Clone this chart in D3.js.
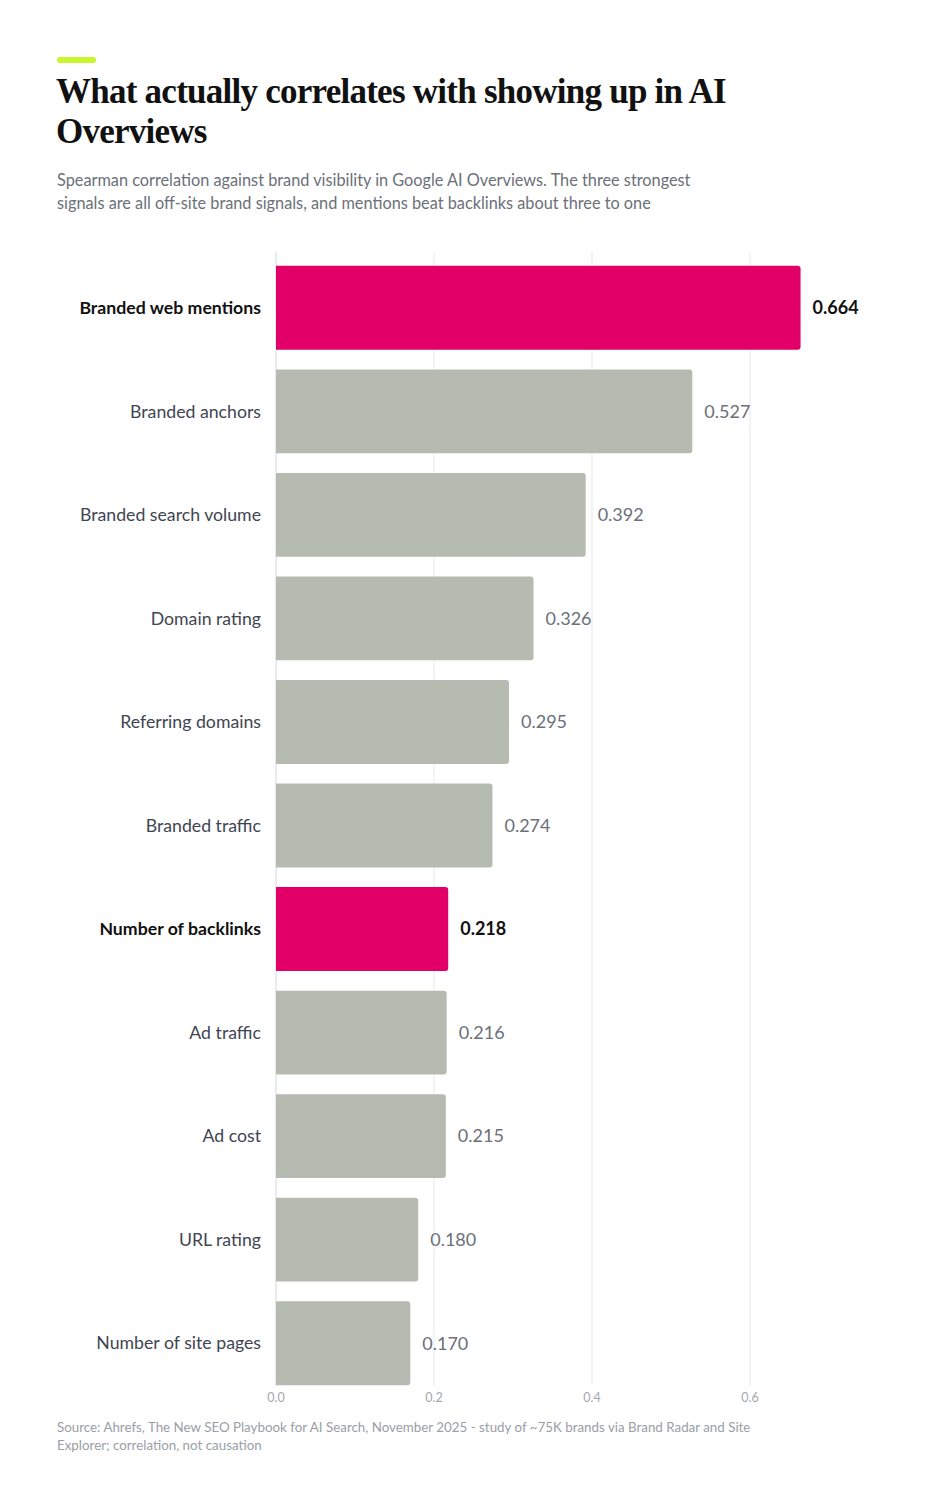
<!DOCTYPE html>
<html><head><meta charset="utf-8">
<script src="https://cdn.jsdelivr.net/npm/d3@7"></script>
<style>
body{margin:0;background:#fff;}
svg{display:block;}
</style></head>
<body>
<svg id="chart" width="941" height="1500"></svg>
<script>
const categories = ["Branded web mentions","Branded anchors","Branded search volume","Domain rating","Referring domains","Branded traffic","Number of backlinks","Ad traffic","Ad cost","URL rating","Number of site pages"];
const values = [0.664,0.527,0.392,0.326,0.295,0.274,0.218,0.216,0.215,0.180,0.170];
const highlighted = ["Branded web mentions","Number of backlinks"];
const xTicks = [0,0.2,0.4,0.6];
const titleLines = ["What actually correlates with showing up in AI","Overviews"];
const subtitleLines = ["Spearman correlation against brand visibility in Google AI Overviews. The three strongest","signals are all off-site brand signals, and mentions beat backlinks about three to one"];
const sourceLines = ["Source: Ahrefs, The New SEO Playbook for AI Search, November 2025 - study of ~75K brands via Brand Radar and Site","Explorer; correlation, not causation"];

const svg = d3.select("#chart");
const sans = "Lato, 'Noto Sans', sans-serif";

svg.append("rect").attr("x",57).attr("y",57).attr("width",39).attr("height",6).attr("rx",3).attr("fill","#c8f52c");

svg.append("g").selectAll("text").data(titleLines).join("text")
  .attr("x",56).attr("y",(d,i)=>103+i*40)
  .attr("font-family","'Liberation Serif','DejaVu Serif',serif").attr("font-weight",700)
  .attr("font-size",35).attr("letter-spacing",-0.75).attr("fill","#111").text(d=>d);

svg.append("g").selectAll("text").data(subtitleLines).join("text")
  .attr("x",57).attr("y",(d,i)=>186+i*23)
  .attr("font-family",sans).attr("font-size",16.3).attr("fill","#6b7079").text(d=>d);

const x = d3.scaleLinear().domain([0,1]).range([276,1066]);
const y = d3.scaleBand().domain(categories).range([256,1395]).paddingInner(0.19).paddingOuter(0.095);

// grid
svg.append("g").selectAll("line").data(xTicks.filter(t=>t>0)).join("line")
  .attr("x1",d=>x(d)).attr("x2",d=>x(d)).attr("y1",252).attr("y2",1386)
  .attr("stroke","#e8e9ec").attr("stroke-width",1);
svg.append("line").attr("x1",x(0)).attr("x2",x(0)).attr("y1",252).attr("y2",1386)
  .attr("stroke","#d4d6da").attr("stroke-width",1);

const r = 3;
function barPath(d,i){
  const x0 = x(0), x1 = x(values[i]), y0 = y(d), h = y.bandwidth();
  return `M${x0},${y0}H${x1-r}Q${x1},${y0} ${x1},${y0+r}V${y0+h-r}Q${x1},${y0+h} ${x1-r},${y0+h}H${x0}Z`;
}
svg.append("g").selectAll("path").data(categories).join("path")
  .attr("d",barPath)
  .attr("fill",d=>highlighted.includes(d)?"#e20068":"#b6bbb2");

// category labels
svg.append("g").selectAll("text").data(categories).join("text")
  .attr("x",261).attr("y",d=>y(d)+y.bandwidth()/2).attr("dy","0.35em")
  .attr("text-anchor","end").attr("font-family",sans).attr("font-size",17.7)
  .attr("font-weight",d=>highlighted.includes(d)?700:400)
  .attr("fill",d=>highlighted.includes(d)?"#111":"#3f4552").text(d=>d);

// value labels
svg.append("g").selectAll("text").data(categories).join("text")
  .attr("x",(d,i)=>x(values[i])+12).attr("y",d=>y(d)+y.bandwidth()/2).attr("dy","0.35em")
  .attr("font-family",sans).attr("font-size",18)
  .attr("font-weight",d=>highlighted.includes(d)?700:400)
  .attr("fill",d=>highlighted.includes(d)?"#111":"#6b7079").text((d,i)=>values[i].toFixed(3));

// axis ticks
svg.append("g").selectAll("text").data(xTicks).join("text")
  .attr("x",d=>x(d)).attr("y",1402).attr("text-anchor","middle")
  .attr("font-family",sans).attr("font-size",12.5).attr("fill","#a3a7ae").text(d=>d.toFixed(1));

svg.append("g").selectAll("text").data(sourceLines).join("text")
  .attr("x",57).attr("y",(d,i)=>1432+i*18)
  .attr("font-family",sans).attr("font-size",13.35).attr("fill","#9a9ea6").text(d=>d);
</script>
</body></html>
